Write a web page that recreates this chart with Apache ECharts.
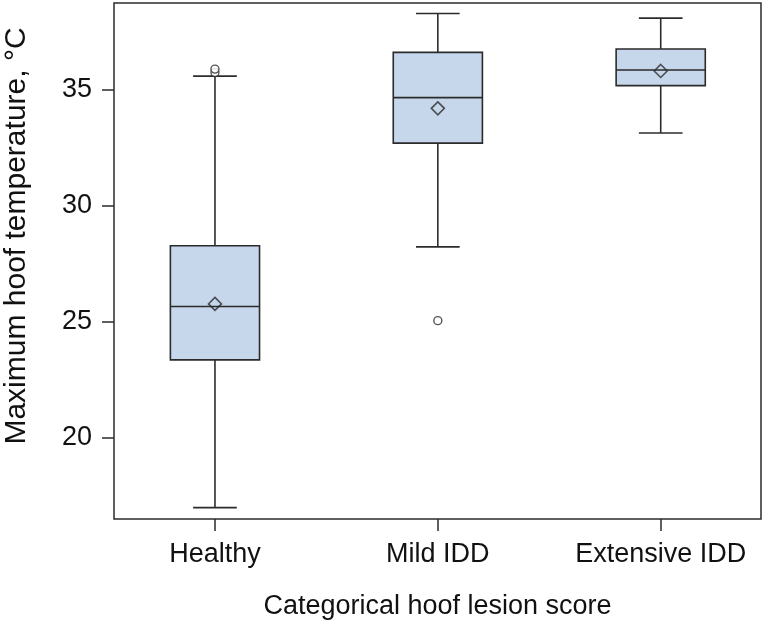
<!DOCTYPE html>
<html>
<head>
<meta charset="utf-8">
<script src="https://cdn.jsdelivr.net/npm/echarts@6/dist/echarts.min.js"></script>
<style>html,body{margin:0;padding:0;background:#fff}#c{width:764px;height:624px}</style>
</head>
<body>
<div id="c"></div>
<script>
const categories = ['Healthy', 'Mild IDD', 'Extensive IDD'];
const whiskerLow = [17.0, 28.24, 33.15];
const q1 = [23.37, 32.71, 35.19];
const median = [25.67, 34.67, 35.86];
const q3 = [28.29, 36.62, 36.77];
const whiskerHigh = [35.60, 38.30, 38.10];
const means = [25.78, 34.21, 35.82];
const outlierCat = [0, 0, 1];
const outlierVal = [35.75, 35.90, 25.06];
const yTicks = [20, 25, 30, 35];

const FONT = '"Liberation Sans", Arial, sans-serif';
const LINE = '#2b2b2b';
const FILL = '#c6d7ec';

const boxData = categories.map((c, i) => [i + 1, whiskerLow[i], q1[i], median[i], q3[i], whiskerHigh[i]]);
const meanData = categories.map((c, i) => [i + 1, means[i]]);
const outData = outlierCat.map((c, i) => [c + 1, outlierVal[i]]);

const chart = echarts.init(document.getElementById('c'));
chart.setOption({
  animation: false,
  grid: { left: 114, right: 3, top: 3, bottom: 105, containLabel: false, outerBoundsMode: 'none',
    show: true, borderColor: LINE, borderWidth: 1.5, backgroundColor: 'transparent' },
  xAxis: {
    type: 'value', min: 0.547, max: 3.45,
    name: 'Categorical hoof lesion score', nameLocation: 'middle', nameGap: 74,
    nameTextStyle: { fontFamily: FONT, fontSize: 27, color: '#111' },
    axisLine: { show: false },
    splitLine: { show: false },
    axisTick: { show: true, length: 12, customValues: [1, 2, 3], lineStyle: { color: LINE, width: 1.5 } },
    axisLabel: { customValues: [1, 2, 3], margin: 22, fontFamily: FONT, fontSize: 27, color: '#111',
      formatter: v => categories[Math.round(v) - 1] || '' }
  },
  yAxis: {
    type: 'value', min: 16.51, max: 38.75,
    name: 'Maximum hoof temperature, \u00B0C', nameLocation: 'middle', nameGap: 82, nameRotate: 90,
    nameTextStyle: { fontFamily: FONT, fontSize: 30, color: '#111', padding: [0, 0, 0, 50] },
    axisLine: { show: false },
    splitLine: { show: false },
    axisTick: { show: true, length: 12, customValues: yTicks, lineStyle: { color: LINE, width: 1.5 } },
    axisLabel: { customValues: yTicks, margin: 22, fontFamily: FONT, fontSize: 27, color: '#111' }
  },
  series: [
    {
      type: 'custom',
      data: boxData,
      encode: { x: 0, y: [1, 2, 3, 4, 5] },
      z: 2,
      renderItem: function (params, api) {
        const x = api.value(0);
        const hw = 0.2, cw = 0.098;
        const p = (xx, yy) => api.coord([xx, yy]);
        const lo = api.value(1), a = api.value(2), m = api.value(3), b = api.value(4), hi = api.value(5);
        const ls = { stroke: LINE, lineWidth: 1.6, fill: null };
        const tl = p(x - hw, b), br = p(x + hw, a);
        return {
          type: 'group',
          children: [
            { type: 'line', shape: { x1: p(x, lo)[0], y1: p(x, lo)[1], x2: p(x, a)[0], y2: p(x, a)[1] }, style: ls },
            { type: 'line', shape: { x1: p(x, b)[0], y1: p(x, b)[1], x2: p(x, hi)[0], y2: p(x, hi)[1] }, style: ls },
            { type: 'line', shape: { x1: p(x - cw, lo)[0], y1: p(x, lo)[1], x2: p(x + cw, lo)[0], y2: p(x, lo)[1] }, style: ls },
            { type: 'line', shape: { x1: p(x - cw, hi)[0], y1: p(x, hi)[1], x2: p(x + cw, hi)[0], y2: p(x, hi)[1] }, style: ls },
            { type: 'rect', shape: { x: tl[0], y: tl[1], width: br[0] - tl[0], height: br[1] - tl[1] }, style: { fill: FILL, stroke: LINE, lineWidth: 1.6 } },
            { type: 'line', shape: { x1: p(x - hw, m)[0], y1: p(x, m)[1], x2: p(x + hw, m)[0], y2: p(x, m)[1] }, style: ls }
          ]
        };
      }
    },
    {
      type: 'scatter', data: meanData, symbol: 'diamond', symbolSize: [13, 13], z: 5,
      itemStyle: { color: 'transparent', borderColor: LINE, borderWidth: 1.6 }
    },
    {
      type: 'scatter', data: outData, symbol: 'circle', symbolSize: 8, z: 5,
      itemStyle: { color: '#fff', borderColor: LINE, borderWidth: 1.4 }
    }
  ]
});
</script>
</body>
</html>
